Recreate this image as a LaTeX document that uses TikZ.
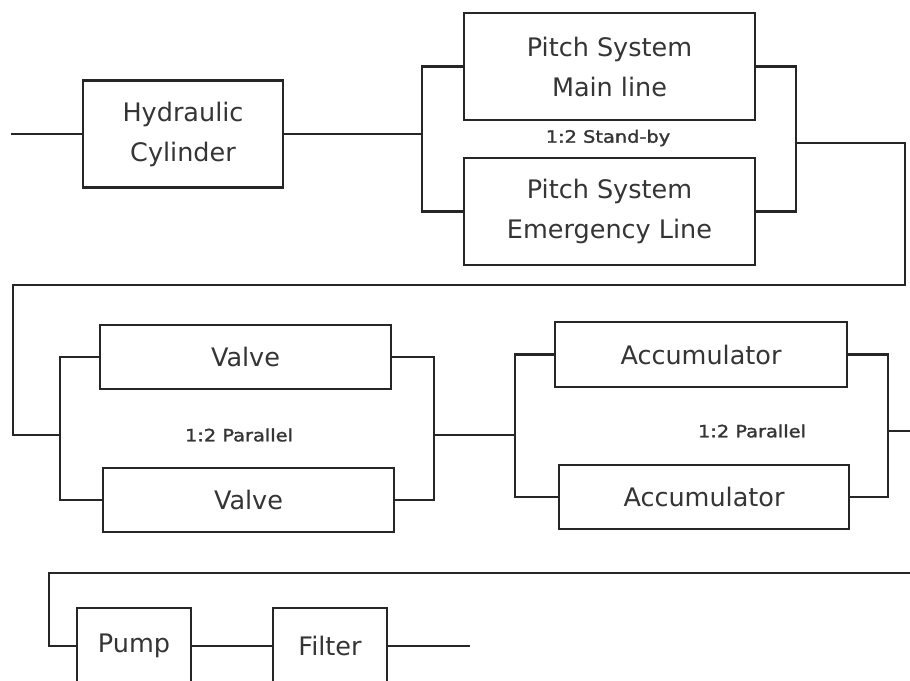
\documentclass[tikz,border=0pt]{standalone}
\usepackage{fontspec}
\setmainfont{DejaVu Sans}
\newfontfamily\lblfont[FakeBold=1.5]{DejaVu Sans}
\definecolor{ln}{HTML}{262626}
\definecolor{tx}{HTML}{353535}
\begin{document}
\begin{tikzpicture}[x=1pt,y=-1pt,
  blk/.style={draw=ln,line width=2.4pt,fill=white,inner sep=0pt,align=center,text=tx,
     font=\fontsize{25.5}{40}\selectfont},
  wire/.style={draw=ln,line width=2.4pt,line cap=rect},
  lbl/.style={text=tx,font=\lblfont\fontsize{17}{18}\selectfont,xscale=1.14,transform shape,inner sep=0pt}]
\useasboundingbox (0,0) rectangle (910,680);
\clip (0,0) rectangle (910,680);
\fill[white] (0,0) rectangle (910,680);
% blocks
\node[blk,minimum width=200pt,minimum height=107pt] (hc) at (183,134) {Hydraulic\\Cylinder};
\node[blk,minimum width=291pt,minimum height=107pt] (pm) at (609.5,66.5) {Pitch System\\Main line};
\node[blk,minimum width=291pt,minimum height=107pt] (pe) at (609.5,211.5) {Pitch System\\Emergency Line};
\node[blk,minimum width=291pt,minimum height=64pt] (v1) at (245.5,357) {Valve};
\node[blk,minimum width=291pt,minimum height=64pt] (v2) at (248.5,500) {Valve};
\node[blk,minimum width=292pt,minimum height=65pt] (a1) at (701,354.5) {Accumulator};
\node[blk,minimum width=290pt,minimum height=64pt] (a2) at (704,497) {Accumulator};
\node[blk,minimum width=114pt,minimum height=76pt] (pump) at (134,646) {Pump};
\node[blk,minimum width=114pt,minimum height=76pt] (filt) at (330,646) {Filter};
% labels
\node[lbl] (sb) at (608,138) {1:2 Stand-by};
\node[lbl] (p1) at (239,435) {1:2 Parallel};
\node[lbl] (p2) at (752,431) {1:2 Parallel};
% coordinates
\coordinate (in0) at (12,134);
\coordinate (pL) at (422,139);
\coordinate (pR) at (796,143);
\coordinate (c1) at (905,143);
\coordinate (c2) at (905,285);
\coordinate (c3) at (13,285);
\coordinate (vL) at (60,435);
\coordinate (vR) at (434,435);
\coordinate (aL) at (515,431);
\coordinate (aR) at (888,431);
\coordinate (eR) at (915,431);
\coordinate (eB) at (915,573);
\coordinate (b1) at (49,573);
\coordinate (out1) at (469,646);
% wires
\draw[wire] (in0) -- (hc.west);
\draw[wire] (hc.east) -- (hc.east -| pL);
\draw[wire] (pm.west) -| (pL) |- (pe.west);
\draw[wire] (pm.east) -| (pR) |- (pe.east);
\draw[wire] (pR) -- (c1) -- (c2) -- (c3) -- (c3 |- vL) -- (vL);
\draw[wire] (v1.west) -| (vL) |- (v2.west);
\draw[wire] (v1.east) -| (vR) |- (v2.east);
\draw[wire] (vR) -- (vR -| aL);
\draw[wire] (a1.west) -| (aL) |- (a2.west);
\draw[wire] (a1.east) -| (aR) |- (a2.east);
\draw[wire] (aR) -- (eR);
\draw[wire] (eB) -- (b1) |- (pump.west);
\draw[wire] (pump.east) -- (filt.west);
\draw[wire] (filt.east) -- (out1);
\end{tikzpicture}
\end{document}
